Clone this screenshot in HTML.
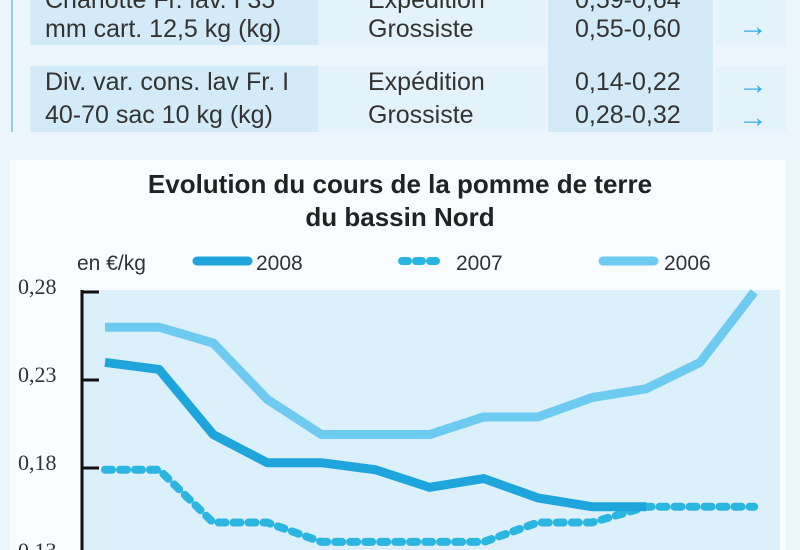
<!DOCTYPE html>
<html><head><meta charset="utf-8"><style>
body{margin:0;width:800px;height:550px;overflow:hidden;background:#eaf5fc;font-family:"Liberation Sans",sans-serif;color:#333}
.t{position:absolute;font-size:25px;white-space:nowrap}
.c{position:absolute}
.ar{position:absolute;color:#2fb0e3;font-size:30px;font-weight:bold;line-height:33px}
</style></head><body>
<div>
<div class="c" style="left:11px;top:0;width:2px;height:132px;background:#9ccbe6"></div>
<div class="c" style="left:30px;top:0;width:288px;height:45px;background:#d3ebf8"></div>
<div class="c" style="left:318px;top:0;width:227px;height:45px;background:#e4f3fb"></div>
<div class="c" style="left:548px;top:0;width:165px;height:132px;background:#d3ebf8"></div>
<div class="c" style="left:716px;top:0;width:70px;height:45px;background:#e4f3fb"></div>
<div class="c" style="left:30px;top:66px;width:288px;height:66px;background:#d3ebf8"></div>
<div class="c" style="left:318px;top:66px;width:227px;height:66px;background:#e4f3fb"></div>
<div class="c" style="left:716px;top:66px;width:70px;height:66px;background:#e4f3fb"></div>
<div class="t" style="left:45px;top:-14px">Charlotte Fr. lav. I 35<br>mm cart. 12,5 kg (kg)</div>
<div class="t" style="left:368px;top:-14px">Expédition<br>Grossiste</div>
<div class="t" style="left:575px;top:-14px">0,59-0,64<br>0,55-0,60</div>
<div class="ar" style="left:738px;top:10px">→</div>
<div class="t" style="left:45px;top:66px;line-height:33px">Div. var. cons. lav Fr. I<br>40-70 sac 10 kg (kg)</div>
<div class="t" style="left:368px;top:66px;line-height:33px">Expédition<br>Grossiste</div>
<div class="t" style="left:575px;top:66px;line-height:33px">0,14-0,22<br>0,28-0,32</div>
<div class="ar" style="left:738px;top:68px">→<br>→</div>
</div>
<div class="c" style="left:10px;top:160px;width:776px;height:390px;background:#f8fcfe"></div>
<div class="t" style="left:0;width:800px;top:168px;text-align:center;font-weight:bold;font-size:26px;line-height:33px;color:#222">Evolution du cours de la pomme de terre<br>du bassin Nord</div>
<svg class="c" style="left:0;top:0" width="800" height="550">
<rect x="83" y="290" width="697" height="260" fill="#dcf0fb"/>
<line x1="82" y1="290" x2="82" y2="550" stroke="#111" stroke-width="3"/>
<g id="ticks"></g>
<g id="lines"></g>
<g font-family="Liberation Sans, sans-serif" font-size="21" fill="#333">
<text x="77" y="270">en €/kg</text>
<line x1="197" y1="261" x2="248" y2="261" stroke="#1ea5dc" stroke-width="9" stroke-linecap="round"/>
<text x="256" y="270">2008</text>
<line x1="402" y1="261" x2="442" y2="261" stroke="#2ab6e0" stroke-width="8" stroke-linecap="round" stroke-dasharray="6,8"/>
<text x="456" y="270">2007</text>
<line x1="603" y1="261" x2="654" y2="261" stroke="#6dcaf0" stroke-width="9" stroke-linecap="round"/>
<text x="664" y="270">2006</text>
</g>
</svg>
<script>
const yTicks=[0.28,0.23,0.18,0.13];
const tickLabels=["0,28","0,23","0,18","0,13"];
const s2006=[0.26,0.26,0.251,0.219,0.199,0.199,0.199,0.209,0.209,0.22,0.225,0.24,0.28];
const s2008=[0.24,0.236,0.199,0.183,0.183,0.179,0.169,0.174,0.163,0.158,0.158];
const s2007=[0.179,0.179,0.149,0.149,0.138,0.138,0.138,0.138,0.149,0.149,0.158,0.158,0.158];
const NS='http://www.w3.org/2000/svg';
function y(v){return 292+(0.28-v)*1760;}
function x(i){return 105+i*54.1;}
const tg=document.getElementById('ticks');
yTicks.forEach((v,i)=>{
 const l=document.createElementNS(NS,'line');
 
 
 l.setAttribute('x1',82);l.setAttribute('x2',99);l.setAttribute('y1',y(v));l.setAttribute('y2',y(v));
 l.setAttribute('stroke','#111');l.setAttribute('stroke-width',3);tg.appendChild(l);
 const t=document.createElementNS(NS,'text');
 
 
 t.setAttribute('x',18);t.setAttribute('y',y(v)+2);
 t.setAttribute('font-family','Liberation Serif, serif');t.setAttribute('font-size','22');t.setAttribute('fill','#333');
 t.textContent=tickLabels[i];tg.appendChild(t);
});
const lg=document.getElementById('lines');
function draw(arr,name,color,w,dash){
 const p=document.createElementNS(NS,'polyline');
 
 
 p.setAttribute('points',arr.map((v,i)=>x(i)+','+y(v)).join(' '));
 p.setAttribute('fill','none');p.setAttribute('stroke',color);p.setAttribute('stroke-width',w);
 p.setAttribute('stroke-linejoin','round');
 if(dash){p.setAttribute('stroke-dasharray',dash);p.setAttribute('stroke-linecap','round');}
 lg.appendChild(p);
}
draw(s2006,'line-2006','#6dcaf0',9,null);
draw(s2007,'line-2007','#2ab6e0',8,'7,8');
draw(s2008,'line-2008','#1ea5dc',9,null);
</script>
</body></html>
